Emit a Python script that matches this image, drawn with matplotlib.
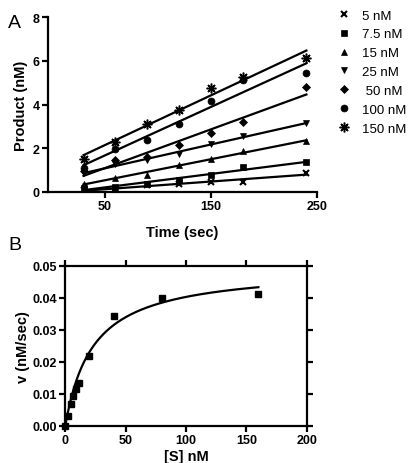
import numpy as np
import matplotlib
matplotlib.use("Agg")
import matplotlib.pyplot as plt

plt.rcParams['font.family'] = ['Liberation Sans', 'DejaVu Sans']

# ---- Panel A data ----
time_sec = [30, 60, 90, 120, 150, 180, 240]
conc_labels = ["5 nM", "7.5 nM", "15 nM", "25 nM", " 50 nM", "100 nM", "150 nM"]
p_5 = [0.10, 0.13, 0.30, 0.37, 0.47, 0.47, 0.88]
p_7_5 = [0.20, 0.25, 0.35, 0.55, 0.80, 1.16, 1.36]
p_15 = [0.38, 0.65, 0.78, 1.25, 1.50, 1.89, 2.32]
p_25 = [0.85, 1.30, 1.45, 1.73, 2.22, 2.57, 3.14]
p_50 = [0.95, 1.45, 1.62, 2.16, 2.68, 3.21, 4.81]
p_100 = [1.10, 1.96, 2.37, 3.10, 4.17, 5.13, 5.43]
p_150 = [1.52, 2.30, 3.10, 3.74, 4.78, 5.28, 6.15]
series_a = [p_5, p_7_5, p_15, p_25, p_50, p_100, p_150]

# ---- Panel B data ----
s_nM = [0, 2.5, 4.5, 6.5, 8.5, 11, 20, 40, 80, 160]
v_rate = [0.0, 0.0031, 0.0068, 0.0094, 0.0115, 0.0135, 0.0219, 0.0342, 0.0399, 0.0411]
vmax_fit = 0.0495
km_fit = 23.0

fig = plt.figure(figsize=(4.10, 4.64), dpi=100)

# ---------------- Panel A ----------------
axA = fig.add_axes([48/410, 1-193/464, (317-48)/410, (193-18.3)/464])
markers = ['x', 's', '^', 'v', 'D', 'o', (8, 2, 0)]
msizes = [4.5, 5, 5, 5, 4.5, 5, 7]
mews = [1.5, 0.5, 0.5, 0.5, 0.5, 0.5, 1.1]
handles = []
for vals, lab, mk, ms, mw in zip(series_a, conc_labels, markers, msizes, mews):
    t = np.array(time_sec, dtype=float)
    y = np.array(vals)
    slope, icpt = np.polyfit(t, y, 1)
    tt = np.array([t.min(), t.max()])
    axA.plot(tt, slope*tt + icpt, color='black', lw=1.6, zorder=2)
    h, = axA.plot(t, y, linestyle='none', marker=mk, ms=ms, color='black',
                  mec='black', mew=mw, zorder=3)
    handles.append(h)

axA.set_xlim(-3.5, 250)
axA.set_ylim(0, 8)
axA.set_xticks([50, 150, 250])
axA.set_yticks([0, 2, 4, 6, 8])
for sp in ['top', 'right']:
    axA.spines[sp].set_visible(False)
for sp in ['left', 'bottom']:
    axA.spines[sp].set_linewidth(1.6)
axA.tick_params(direction='out', length=4, width=1.6, labelsize=9, pad=2)
for lbl in axA.get_xticklabels() + axA.get_yticklabels():
    lbl.set_fontweight('bold')
axA.set_xlabel('Time (sec)', fontsize=10.5, fontweight='bold', labelpad=9)
axA.set_ylabel('Product (nM)', fontsize=10.5, fontweight='bold', labelpad=3)

leg = fig.legend(handles, conc_labels, loc='upper left',
                 bbox_to_anchor=(333/410, 1-5/464), frameon=False,
                 fontsize=9.5, handlelength=0.9, handletextpad=0.9,
                 labelspacing=0.5, borderaxespad=0)

fig.text(8/410, 1-28/464, 'A', fontsize=14)

# ---------------- Panel B ----------------
axB = fig.add_axes([65.3/410, 1-426.7/464, (306.7-65.3)/410, (426.7-266.7)/464])
s_curve = np.linspace(0, max(s_nM), 300)
axB.plot(s_curve, vmax_fit*s_curve/(km_fit+s_curve), color='black', lw=1.6, zorder=2)
axB.plot(s_nM, v_rate, linestyle='none', marker='s', ms=5, color='black', zorder=3,
         clip_on=False)
axB.set_xlim(0, 200)
axB.set_ylim(0, 0.05)
axB.set_xticks([0, 50, 100, 150, 200])
axB.set_yticks([0, 0.01, 0.02, 0.03, 0.04, 0.05])
axB.set_yticklabels(['0.00', '0.01', '0.02', '0.03', '0.04', '0.05'])
for sp in axB.spines.values():
    sp.set_linewidth(1.6)
axB.tick_params(direction='out', length=4, width=1.6, labelsize=9, pad=2,
                top=True, right=True)
for lbl in axB.get_xticklabels() + axB.get_yticklabels():
    lbl.set_fontweight('bold')
axB.set_xlabel('[S] nM', fontsize=10.5, fontweight='bold', labelpad=2)
axB.set_ylabel('v (nM/sec)', fontsize=10.5, fontweight='bold', labelpad=2)

fig.text(8/410, 1-250/464, 'B', fontsize=14)

fig.savefig('out.png', dpi=100)
